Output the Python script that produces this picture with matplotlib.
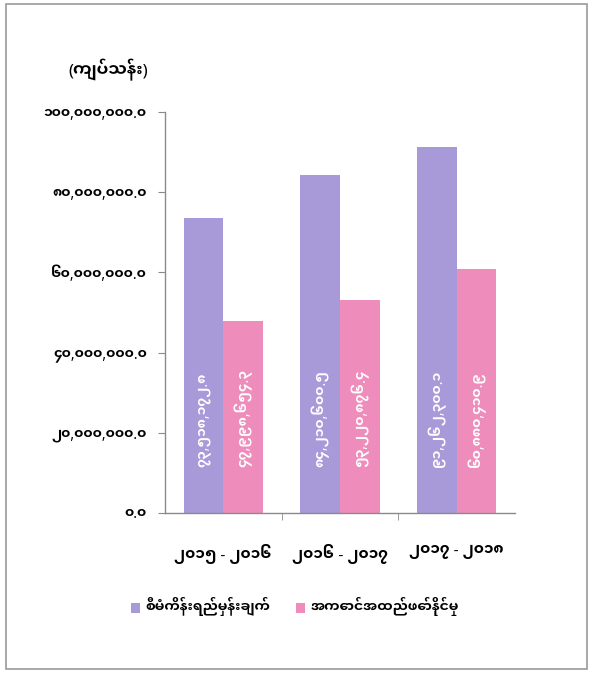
import matplotlib
matplotlib.use("Agg")
import matplotlib.pyplot as plt
import numpy as np
from matplotlib.patches import Rectangle
from matplotlib.ticker import FixedLocator, FuncFormatter

MY = ['Noto Sans Myanmar UI', 'Noto Sans Myanmar', 'Padauk', 'DejaVu Sans']
plt.rcParams['font.family'] = MY

categories = ["၂၀၁၅ - ၂၀၁၆", "၂၀၁၆ - ၂၀၁၇", "၂၀၁၇ - ၂၀၁၈"]
series_names = ["စီမံကိန်းရည်မှန်းချက်", "အကောင်အထည်ဖော်နိုင်မှု"]
planned = [73518172.8, 84210600.5, 91262300.1]
actual = [47998654.3, 53220876.4, 60880410.9]
y_ticks = [0, 20000000, 40000000, 60000000, 80000000, 100000000]
unit_label = "(ကျပ်သန်း)"

colors = ["#a899d8", "#ee8dbc"]

DIG = str.maketrans("0123456789", "၀၁၂၃၄၅၆၇၈၉")
def mm(s):
    return s.translate(DIG)

fig = plt.figure(figsize=(5.95, 6.75), dpi=100)
fig.patches.append(Rectangle((6/595, 1-669/675), 581/595, 665/675, transform=fig.transFigure,
                             fill=False, edgecolor="#9a9a9a", linewidth=1.2))

ax = fig.add_axes([165/595, 1-513/675, 350/595, 401/675])
x = np.arange(len(categories))
w = 0.34
b1 = ax.bar(x - w/2, planned, w, color=colors[0], label=series_names[0])
b2 = ax.bar(x + w/2, actual, w, color=colors[1], label=series_names[1])

for bars, vals in ((b1, planned), (b2, actual)):
    for r, v in zip(bars, vals):
        ax.text(r.get_x() + r.get_width()/2, 11.5e6, mm(f"{v:,.1f}"),
                rotation=90, ha="center", va="bottom", color="white",
                fontsize=10, fontweight="bold")

ax.set_xlim(-0.5, 2.5)
ax.set_ylim(0, 100000000)
ax.yaxis.set_major_locator(FixedLocator(y_ticks))
ax.yaxis.set_major_formatter(FuncFormatter(lambda v, p: mm(f"{v:,.1f}")))
ax.set_xticks(x)
ax.set_xticklabels(categories)
ax.xaxis.set_minor_locator(FixedLocator([0.5, 1.5]))
ax.tick_params(axis="x", which="major", length=0, pad=22, labelsize=11)
ax.tick_params(axis="x", which="minor", length=5, color="#8a8a8a", direction="out")
ax.tick_params(axis="y", length=5, color="#8a8a8a", labelsize=10, pad=8)
for lab in ax.get_yticklabels() + ax.get_xticklabels():
    lab.set_fontweight("bold")
for s in ("top", "right"):
    ax.spines[s].set_visible(False)
for s in ("left", "bottom"):
    ax.spines[s].set_color("#8a8a8a")
    ax.spines[s].set_linewidth(1.0)

fig.text(68/595, 1-70/675, unit_label, fontsize=12, fontweight="bold", va="center", ha="left")

leg = fig.legend(handles=[b1, b2], labels=series_names, loc="center",
                 bbox_to_anchor=(295/595, 1-607/675), ncol=2, frameon=False,
                 handlelength=0.7, handleheight=0.7, handletextpad=0.4,
                 columnspacing=1.8, prop={'family': MY, 'weight': 'bold', 'size': 10})

fig.savefig("out.png", dpi=100)
